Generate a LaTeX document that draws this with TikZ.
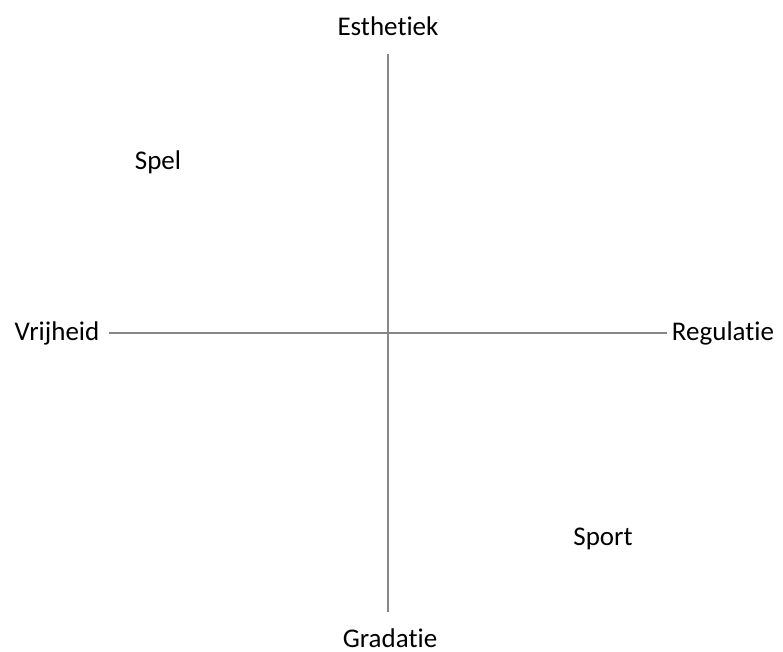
\documentclass[tikz,border=0pt]{standalone}
\usepackage{fontspec}
\setmainfont[Ligatures={NoCommon}]{Carlito}
\begin{document}
\begin{tikzpicture}[x=1pt,y=-1pt,
  axis/.style={draw=black!47, line width=2pt},
  lbl/.style={font=\fontsize{27}{31}\selectfont, text=black, inner sep=0pt, anchor=center}]
\useasboundingbox (0,0) rectangle (783,651);
\node[lbl] (est) at (388,26) {Esthetiek};
\node[lbl] (grad) at (390,638) {Gradatie};
\node[lbl] (vrij) at (57,333) {Vrijheid};
\node[lbl] (reg) at (723,333) {Regulatie};
\node[lbl] (spel) at (158,162) {Spel};
\node[lbl] (sport) at (603,539) {Sport};
\coordinate (top) at (388,54);
\coordinate (bot) at (388,612);
\coordinate (left) at (109,333);
\coordinate (right) at (667,333);
\draw[axis] (top) -- (bot);
\draw[axis] (left) -- (right);
\end{tikzpicture}
\end{document}
